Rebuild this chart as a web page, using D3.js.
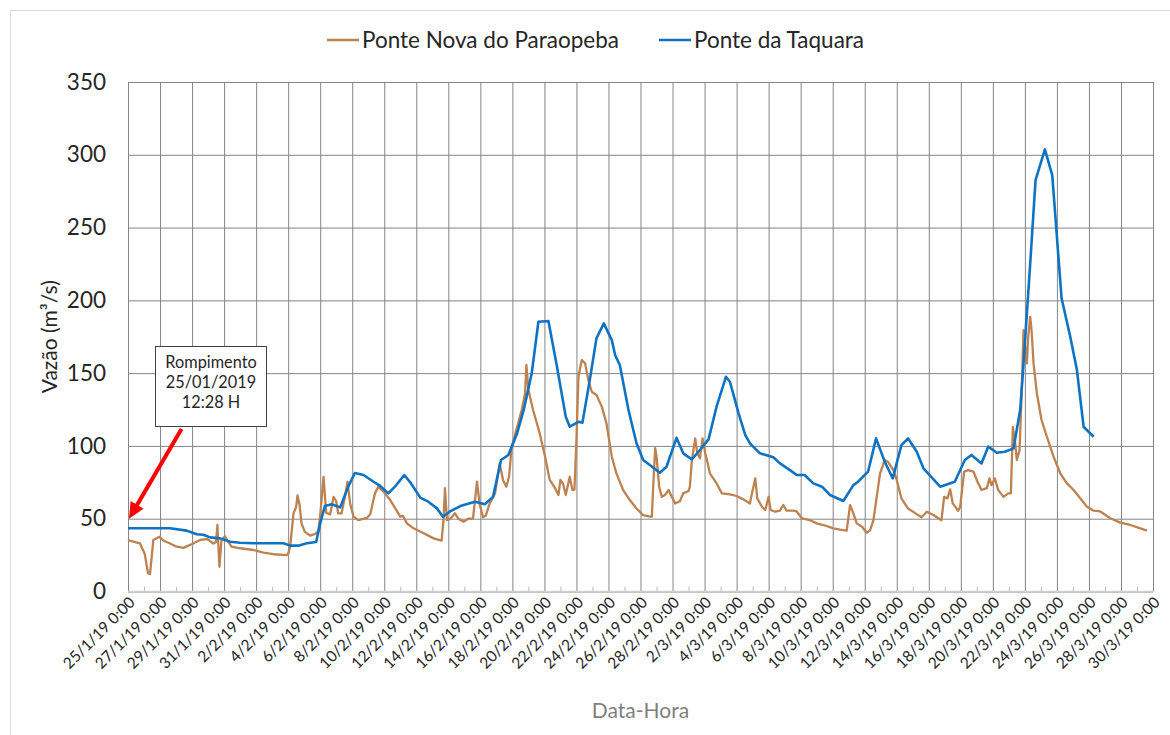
<!DOCTYPE html>
<html><head><meta charset="utf-8">
<script src="https://cdn.jsdelivr.net/npm/d3@7"></script>
<style>
body{margin:0;background:#fff}
svg{display:block}
text{font-family:Lato,"Open Sans",sans-serif;fill:#262626}
</style>
</head><body><svg id="c" width="1170" height="735"></svg>
<script>
// ---------- DATA ----------
const seriesNames = ["Ponte Nova do Paraopeba", "Ponte da Taquara"];
const seriesColors = ["#BE8250", "#0F73C4"];

const paraopebaTimes = ["01-25 00","01-25 08","01-25 18","01-26 01","01-26 06","01-26 09","01-26 11","01-26 14","01-26 23","01-27 05","01-27 15","01-28 01","01-28 11","01-28 21","01-29 12","01-29 23","01-30 08","01-30 12","01-30 14","01-30 17","01-30 20","01-31 01","01-31 05","01-31 11","02-01 00","02-01 20","02-02 11","02-03 02","02-03 22","02-04 00","02-04 03","02-04 08","02-04 12","02-04 14","02-04 17","02-04 20","02-05 01","02-05 09","02-05 16","02-05 21","02-06 00","02-06 05","02-06 09","02-06 15","02-06 20","02-07 00","02-07 03","02-07 08","02-07 13","02-07 17","02-07 21","02-08 02","02-08 09","02-08 22","02-09 03","02-09 10","02-09 15","02-09 23","02-10 09","02-11 00","02-11 04","02-11 10","02-11 20","02-12 11","02-13 02","02-13 14","02-13 17","02-13 19","02-13 22","02-14 03","02-14 10","02-14 15","02-14 23","02-15 06","02-15 13","02-15 19","02-15 23","02-16 04","02-16 08","02-16 14","02-16 22","02-17 05","02-17 10","02-17 15","02-17 19","02-17 23","02-18 06","02-18 14","02-18 19","02-18 21","02-19 00","02-19 07","02-19 17","02-20 01","02-20 08","02-20 16","02-20 21","02-21 00","02-21 04","02-21 08","02-21 14","02-21 18","02-21 21","02-22 00","02-22 03","02-22 08","02-22 13","02-22 18","02-22 23","02-23 06","02-23 14","02-23 21","02-24 05","02-24 12","02-24 22","02-25 08","02-25 18","02-26 04","02-26 14","02-26 17","02-26 19","02-26 22","02-27 00","02-27 04","02-27 08","02-27 13","02-27 18","02-27 23","02-28 04","02-28 11","02-28 16","03-01 00","03-01 02","03-01 05","03-01 10","03-01 13","03-01 17","03-01 21","03-02 01","03-02 03","03-02 08","03-02 18","03-03 02","03-03 14","03-04 00","03-04 10","03-04 20","03-04 23","03-05 04","03-05 07","03-05 14","03-05 19","03-06 00","03-06 03","03-06 10","03-06 17","03-06 22","03-07 03","03-07 13","03-07 18","03-08 02","03-08 14","03-09 00","03-09 15","03-10 01","03-10 11","03-10 21","03-11 02","03-11 07","03-11 12","03-11 20","03-12 03","03-12 08","03-12 13","03-12 18","03-12 23","03-13 06","03-13 11","03-13 19","03-14 00","03-14 07","03-14 17","03-15 03","03-15 13","03-15 21","03-16 07","03-16 19","03-16 23","03-17 04","03-17 08","03-17 12","03-17 20","03-17 23","03-18 05","03-18 11","03-18 19","03-19 01","03-19 07","03-19 15","03-19 19","03-19 22","03-20 03","03-20 08","03-20 16","03-20 23","03-21 03","03-21 06","03-21 09","03-21 12","03-21 16","03-21 19","03-21 22","03-22 00","03-22 03","03-22 05","03-22 08","03-22 10","03-22 13","03-22 18","03-23 01","03-23 09","03-23 19","03-24 05","03-24 15","03-25 01","03-25 11","03-25 21","03-26 07","03-26 17","03-27 08","03-27 23","03-28 14","03-29 05","03-29 15"];
const paraopebaValues = [35.4,34.2,33,26,12.5,12,21.6,35.4,37.6,35,33,30.8,30,32,35.4,36,33,34,45.7,17,35,38,35,30.8,29.7,28.5,26.7,25.6,25,26,30.8,53.7,58,66,60,46.8,41,38.4,39.5,41,52,78.8,54,53,65,62,53.6,53.6,65,75.4,60,51.4,49,50.5,53,67.4,72,68.6,62.8,51.4,52,46.8,43.4,40,36.5,35,50,71,49,50,53.7,50,48,50,50.3,75.4,60,51,52,60.5,67.4,88,76.6,72,78.8,99.5,111,124.7,136,155.6,138.4,124.7,108.6,92.6,76.6,71,66.3,76.6,74,66.3,78.8,69.7,70,104,147.5,159,156.7,145,137.2,135,127,115.5,92.6,81,69.7,62.8,57,52.5,51.4,51.4,72,98.4,93,72,65,66.5,69.7,65,60.5,62,67.4,69,72,90.3,105.2,95,91.5,105.2,95,91.5,81.2,74.3,67.4,66.7,65.6,63.3,60.5,67.4,77.7,64,58.2,56,65,56,54.8,55.5,59.4,55.5,55.5,55,50.3,49,46.8,45,43.4,42.5,41.8,59.4,53.7,46.8,44.5,40.4,42,49,65,81.2,90.3,89,83.4,76.6,64,57,54,51,54.8,52.5,49,65,64,70.2,60.5,55.5,58,82.3,83.4,82.3,75.4,69.7,71,77.7,73,77.7,69.7,65,67.4,67.4,113,104,90.3,97,133.8,179.6,170.5,156.7,175,188.7,179.6,156.7,136,117.8,106.3,92.6,81.2,74.3,69.7,64,58.2,55.5,55,50.3,47.3,45.7,43.4,41.8];

const taquaraTimes = ["01-25 00","01-27 15","01-28 16","01-29 07","01-29 17","01-30 03","01-30 18","01-31 09","02-01 00","02-01 20","02-03 17","02-04 03","02-04 15","02-05 04","02-05 18","02-06 00","02-06 07","02-06 17","02-07 06","02-07 18","02-08 04","02-08 17","02-09 08","02-09 18","02-10 06","02-10 16","02-11 06","02-11 15","02-12 06","02-12 18","02-13 07","02-13 16","02-14 02","02-14 18","02-15 16","02-16 07","02-16 19","02-17 07","02-17 18","02-18 07","02-18 17","02-19 05","02-19 15","02-20 06","02-20 18","02-21 08","02-21 14","02-22 03","02-22 09","02-22 20","02-23 06","02-23 17","02-24 05","02-24 10","02-24 17","02-25 06","02-25 18","02-26 04","02-26 14","02-27 05","02-27 15","02-28 06","02-28 16","03-01 05","03-01 17","03-02 06","03-02 18","03-03 08","03-03 14","03-04 03","03-04 13","03-04 20","03-05 11","03-06 07","03-06 17","03-07 08","03-07 18","03-08 06","03-08 19","03-09 08","03-09 20","03-10 16","03-11 07","03-11 14","03-12 05","03-12 17","03-13 06","03-13 18","03-14 07","03-14 17","03-15 06","03-15 16","03-16 17","03-17 15","03-18 06","03-18 16","03-19 07","03-19 17","03-20 06","03-20 18","03-21 07","03-21 17","03-21 22","03-22 08","03-22 16","03-23 06","03-23 17","03-24 07","03-24 20","03-25 06","03-25 16","03-26 07"];
const taquaraValues = [43.4,43.4,41.8,39.3,39,37.2,36.5,34.2,33.5,33.1,33.1,31.5,31.5,33.1,34,46.8,58.7,59.9,57.8,72,81.4,80,75.4,72.5,67.4,72,80,75,64.5,61.7,57.1,51.4,54.8,58.7,61.7,60,65,90.3,93.8,108.6,124.7,149.9,185.3,185.8,156.7,120,113.2,116.6,116,145.3,173.9,184.2,172.7,162.4,155.6,124.7,101.8,90.3,86.9,81.6,85.7,105.6,94.9,90.8,97.2,104.5,127,147.5,144.1,122.4,107.5,101.8,94.9,92.2,88,83.4,80,80,74.3,72,66.3,62.2,73.1,75.4,82.3,105.2,89.1,77.7,100.6,105.2,96,84.6,72,75.4,90.3,93.8,88,99.5,95.3,96,98.3,124.7,156.7,225.4,282.6,303.7,286,201.4,175,152.1,113.2,106.3];

const yTicks = [0, 50, 100, 150, 200, 250, 300, 350];
const xStart = "01-25 00", xEnd = "03-30 00";
const annotationLines = ["Rompimento", "25/01/2019", "12:28 H"];
const annotationValue = 50;
const yTitle = "Vazão (m³/s)";
const xTitle = "Data-Hora";

// ---------- CHART ----------
const parseT = d3.timeParse("%Y-%m-%d %H");
const P = s => parseT("2019-" + s);
const fmt = d3.timeFormat("%-d/%-m/%y %-H:%M");

const L = 128, R = 1153, T = 82, B = 591.5;
const x = d3.scaleTime().domain([P(xStart), P(xEnd)]).range([L, R]);
const y = d3.scaleLinear().domain([0, 350]).range([B, T]);

const svg = d3.select("#c");
svg.append("rect").attr("x", 10.5).attr("y", 10.5).attr("width", 1170).attr("height", 760)
  .attr("fill", "none").attr("stroke", "#d9d9d9");

const nDays = d3.timeDay.count(P(xStart), P(xEnd));
const majorDates = d3.range(0, nDays + 1, 2).map(i => d3.timeDay.offset(P(xStart), i));
const minorDates = d3.range(1, nDays, 2).map(i => d3.timeDay.offset(P(xStart), i));

// horizontal gridlines + y labels
const gy = svg.append("g").attr("transform", `translate(${L},0)`)
  .call(d3.axisLeft(y).tickValues(yTicks).tickSize(-(R - L)).tickPadding(22));
gy.select(".domain").remove();
gy.selectAll(".tick line").attr("stroke", "#858585").attr("stroke-width", 1);
gy.selectAll(".tick text").attr("font-size", 22.5).attr("font-family", "Lato").attr("fill", "#262626");

// vertical gridlines
const gx = svg.append("g").attr("transform", `translate(0,${B})`)
  .call(d3.axisBottom(x).tickValues(majorDates).tickSize(-(B - T)).tickFormat(""));
gx.select(".domain").remove();
gx.selectAll(".tick line").attr("stroke", "#858585").attr("stroke-width", 1);

// bottom axis line + minor ticks
svg.append("line").attr("x1", L).attr("x2", R).attr("y1", B).attr("y2", B)
  .attr("stroke", "#d0d0d0").attr("stroke-width", 1.5);
const gm = svg.append("g").attr("transform", `translate(0,${B})`)
  .call(d3.axisBottom(x).tickValues(minorDates).tickSize(-5).tickFormat(""));
gm.select(".domain").remove();
gm.selectAll(".tick line").attr("stroke", "#bfbfbf");

// x labels
svg.append("g").selectAll("text").data(majorDates).join("text")
  .attr("transform", d => `translate(${x(d) + 4},${B + 8}) rotate(-45)`)
  .attr("text-anchor", "end").attr("dy", "0.35em")
  .attr("font-size", 15.5).text(d => fmt(d));

// axis titles
svg.append("text").attr("transform", `translate(50,${(T + B) / 2}) rotate(-90)`)
  .attr("text-anchor", "middle").attr("dy", "0.35em").attr("font-size", 21).text(yTitle);
svg.append("text").attr("x", (L + R) / 2).attr("y", 711).attr("text-anchor", "middle")
  .attr("dy", "0.35em").attr("font-size", 21).style("fill", "#7f7f7f").text(xTitle);

// series
const line = d3.line().x(d => x(d.t)).y(d => y(d.v));
const s1 = paraopebaTimes.map((t, i) => ({t: P(t), v: paraopebaValues[i]}));
const s2 = taquaraTimes.map((t, i) => ({t: P(t), v: taquaraValues[i]}));
svg.append("path").datum(s1).attr("d", line).attr("fill", "none")
  .attr("stroke", seriesColors[0]).attr("stroke-width", 2.3).attr("stroke-linejoin", "round");
svg.append("path").datum(s2).attr("d", line).attr("fill", "none")
  .attr("stroke", seriesColors[1]).attr("stroke-width", 2.6).attr("stroke-linejoin", "round");

// legend
const legend = [{x: 327, tx: 362}, {x: 659, tx: 694}];
seriesNames.forEach((n, i) => {
  svg.append("line").attr("x1", legend[i].x).attr("x2", legend[i].x + 32).attr("y1", 40).attr("y2", 40)
    .attr("stroke", seriesColors[i]).attr("stroke-width", 2.5);
  svg.append("text").attr("x", legend[i].tx).attr("y", 40).attr("dy", "0.35em")
    .attr("font-size", 22.5).text(n);
});

// annotation
const box = {x: 155.5, y: 346.5, w: 111, h: 80};
svg.append("rect").attr("x", box.x).attr("y", box.y).attr("width", box.w).attr("height", box.h)
  .attr("fill", "#fff").attr("stroke", "#404040").attr("stroke-width", 1);
annotationLines.forEach((t, i) => {
  svg.append("text").attr("x", box.x + box.w / 2).attr("y", 368 + i * 20)
    .attr("text-anchor", "middle").attr("font-size", 16.3).text(t);
});
const tip = [x(P(xStart)) + 1, y(annotationValue)];
const tail = [181.5, 429];
const dx = tip[0] - tail[0], dy = tip[1] - tail[1], len = Math.hypot(dx, dy);
const ux = dx / len, uy = dy / len, hl = 16, hw = 7.5;
const base = [tip[0] - ux * hl, tip[1] - uy * hl];
svg.append("line").attr("x1", tail[0]).attr("y1", tail[1]).attr("x2", base[0] + ux * 2).attr("y2", base[1] + uy * 2)
  .attr("stroke", "#ff0000").attr("stroke-width", 4);
svg.append("path").attr("d", `M${tip[0]},${tip[1]}L${base[0] - uy * hw},${base[1] + ux * hw}L${base[0] + uy * hw},${base[1] - ux * hw}Z`)
  .attr("fill", "#ff0000");
</script>
</body></html>
